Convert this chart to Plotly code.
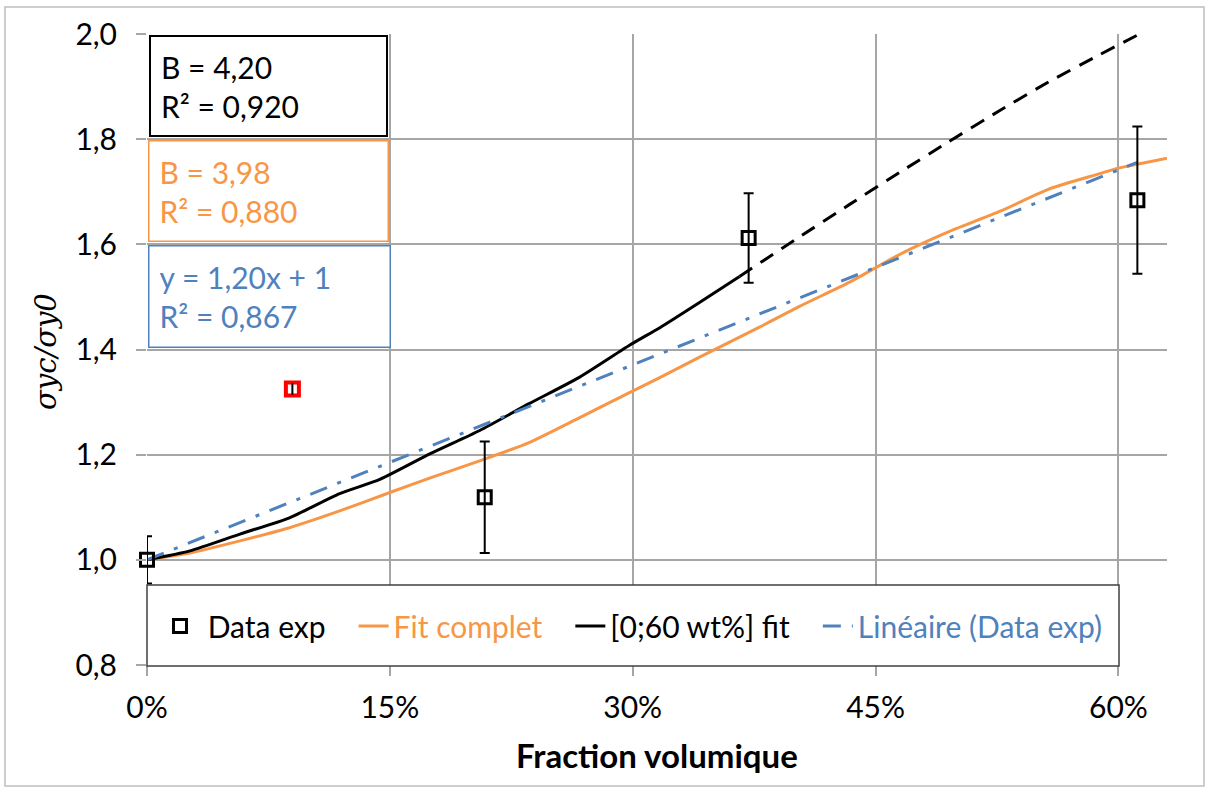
import plotly.graph_objects as go

# ---- data ----
data_x = [0.0, 0.2086, 0.3716, 0.6117]
data_y = [1.000, 1.119, 1.612, 1.684]
data_err = [0.045, 0.106, 0.085, 0.140]

red_x = [0.0898]
red_y = [1.325]

fit_x = [0, 0.0265, 0.0574, 0.088, 0.119, 0.15, 0.175, 0.209, 0.236, 0.267, 0.298,
         0.317, 0.341, 0.378, 0.403, 0.434, 0.465, 0.496, 0.527, 0.557, 0.588, 0.60, 0.63]
fit_y = [1.0, 1.013, 1.036, 1.061, 1.093, 1.128, 1.156, 1.192, 1.223, 1.27, 1.318,
         1.347, 1.385, 1.442, 1.482, 1.528, 1.581, 1.625, 1.663, 1.705, 1.734, 1.745, 1.764]

bfit_x = [0, 0.0265, 0.0574, 0.088, 0.119, 0.1438, 0.175, 0.2055, 0.236, 0.267, 0.298, 0.317, 0.341, 0.366]
bfit_y = [1.0, 1.017, 1.049, 1.080, 1.126, 1.153, 1.202, 1.246, 1.297, 1.347, 1.408, 1.442, 1.489, 1.539]

bext_x = [0.366, 0.403, 0.434, 0.465, 0.494, 0.527, 0.557, 0.588, 0.613]
bext_y = [1.539, 1.614, 1.676, 1.737, 1.793, 1.855, 1.909, 1.960, 2.0]

lin_x = [0.0, 0.6117]
lin_y = [1.0, 1.756]

x_ticks = [0, 0.15, 0.30, 0.45, 0.60]
y_ticks = [0.8, 1.0, 1.2, 1.4, 1.6, 1.8, 2.0]

box_texts = ["B = 4,20<br>R² = 0,920", "B = 3,98<br>R² = 0,880", "y = 1,20x + 1<br>R² = 0,867"]

ORANGE = "#F79646"
BLUE = "#4F81BD"
GRID = "#A6A6A6"
FONT = "Lato"
NB = "\u00a0"
GAP = NB * 3

fig = go.Figure()

fig.add_trace(go.Scatter(
    x=fit_x, y=fit_y, mode="lines", line=dict(color=ORANGE, width=3, shape="spline", smoothing=0.6),
    name=f"<span style='color:{ORANGE}'>Fit complet</span>" + GAP, legendrank=2))
fig.add_trace(go.Scatter(
    x=bfit_x, y=bfit_y, mode="lines", line=dict(color="black", width=3, shape="spline", smoothing=0.6),
    name="[0;60 wt%] fit" + GAP, legendrank=3))
fig.add_trace(go.Scatter(
    x=bext_x, y=bext_y, mode="lines",
    line=dict(color="black", width=3, dash="15px,10px", shape="spline", smoothing=0.6),
    showlegend=False))
fig.add_trace(go.Scatter(
    x=lin_x, y=lin_y, mode="lines", line=dict(color=BLUE, width=3, dash="18px,11px,4px,11px"),
    name=f"<span style='color:{BLUE}'>Linéaire (Data exp)</span>", legendrank=4))
fig.add_trace(go.Scatter(
    x=data_x, y=data_y, mode="markers", name=NB + "Data exp" + GAP, legendrank=1,
    marker=dict(symbol="square-open", size=13, color="black", line=dict(width=3, color="black")),
    error_y=dict(type="data", array=data_err, visible=True, color="black", thickness=2, width=5),
    cliponaxis=False))
fig.add_trace(go.Scatter(
    x=red_x, y=red_y, mode="markers", showlegend=False,
    marker=dict(symbol="square-open", size=13, color="red", line=dict(width=4, color="red"))))
fig.add_trace(go.Scatter(
    x=red_x, y=red_y, mode="markers", showlegend=False,
    marker=dict(symbol="line-ns", size=8, color="black", line=dict(width=2, color="black"))))

# plot area: x 147..1167, y 34..665
L, R, T, B = 147, 1167, 34, 665
W, H = R - L, B - T
def px(x):
    return (x - L) / W
def py(y):
    return (B - y) / H

shapes = [
    dict(type="rect", xref="paper", yref="paper", x0=px(5), x1=px(1204), y0=py(786), y1=py(7),
         line=dict(color="#BFBFBF", width=1.5), fillcolor="rgba(0,0,0,0)", layer="below"),
    dict(type="rect", xref="paper", yref="paper", x0=px(147), x1=px(1119), y0=py(666), y1=py(585),
         line=dict(color="#404040", width=1.5), fillcolor="white", layer="above"),
]

annotations = [
    dict(text=box_texts[0], xref="paper", yref="paper", x=px(149), y=py(35), xanchor="left", yanchor="top",
         showarrow=False, align="left", valign="middle", width=215, height=78, borderpad=10,
         bordercolor="black", borderwidth=2, bgcolor="white", font=dict(family=FONT, size=30, color="black")),
    dict(text=box_texts[1], xref="paper", yref="paper", x=px(148), y=py(140), xanchor="left", yanchor="top",
         showarrow=False, align="left", valign="middle", width=218, height=79, borderpad=10,
         bordercolor=ORANGE, borderwidth=1.5, bgcolor="white", font=dict(family=FONT, size=30, color=ORANGE)),
    dict(text=box_texts[2], xref="paper", yref="paper", x=px(148), y=py(245), xanchor="left", yanchor="top",
         showarrow=False, align="left", valign="middle", width=220, height=80, borderpad=10,
         bordercolor=BLUE, borderwidth=1.5, bgcolor="white", font=dict(family=FONT, size=30, color=BLUE)),
    dict(text="<i>σyc/σy0</i>", xref="paper", yref="paper", x=px(46), y=py(352), textangle=-90,
         xanchor="center", yanchor="middle",
         showarrow=False, font=dict(family="DejaVu Serif", size=29, color="black")),
    dict(text="<b>Fraction volumique</b>", xref="paper", yref="paper", x=px(657), y=py(755),
         xanchor="center", yanchor="middle",
         showarrow=False, font=dict(family=FONT, size=33, color="black")),
]

fig.update_layout(
    width=1210, height=792,
    margin=dict(l=L, r=1210 - R, t=T, b=792 - B),
    paper_bgcolor="white", plot_bgcolor="white",
    separators=", ",
    font=dict(family=FONT, size=30, color="black"),
    showlegend=True,
    legend=dict(orientation="h", x=px(160), xanchor="left", y=py(626), yanchor="middle",
                bgcolor="rgba(0,0,0,0)", borderwidth=0, font=dict(family=FONT, size=30, color="black"),
                itemclick=False, tracegroupgap=0),
    shapes=shapes,
    annotations=annotations,
    xaxis=dict(range=[0, 0.63], tickvals=x_ticks, tickformat=".0%", showgrid=True, gridcolor=GRID, gridwidth=1.5,
               zeroline=False, showline=False, ticks="outside", ticklen=10, tickcolor=GRID, tickwidth=1.5,
               ticklabelstandoff=6, tickfont=dict(family=FONT, size=30)),
    yaxis=dict(range=[0.8, 2.0], tickvals=y_ticks, tickformat=".1f", showgrid=True, gridcolor=GRID, gridwidth=1.5,
               zeroline=False, showline=False, ticks="outside", ticklen=10, tickcolor=GRID, tickwidth=1.5,
               ticklabelstandoff=13, tickfont=dict(family=FONT, size=30)),
)

fig.write_html("out.html", config={"displayModeBar": False},
               post_script="document.body.style.margin='0';document.body.style.padding='0';")
